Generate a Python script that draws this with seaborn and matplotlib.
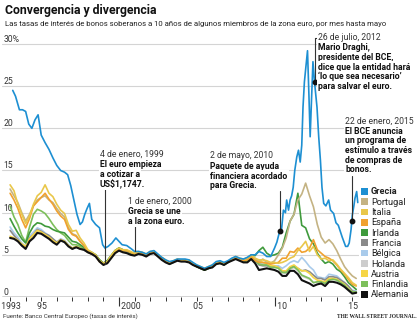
import numpy as np
import pandas as pd
import matplotlib
matplotlib.use("Agg")
import matplotlib.pyplot as plt
import seaborn as sns
from matplotlib import font_manager as fm
from matplotlib.patches import Patch

# ---------------- data ----------------
quarters = pd.period_range("1993Q1", "2015Q2", freq="Q")

alemania = [7.0, 6.9, 6.6, 6.1, 5.7, 6.6, 7.0, 7.6, 7.5, 7.2, 6.9, 6.5, 6.2, 6.7, 6.5, 6.0,
            5.7, 5.9, 5.7, 5.6, 5.3, 5.1, 4.8, 4.2, 3.8, 4.0, 4.6, 5.2, 5.5, 5.3, 5.2, 5.0,
            4.9, 5.1, 5.0, 4.8, 5.1, 5.2, 4.8, 4.4, 4.1, 3.9, 4.1, 4.3, 4.2, 4.2, 4.1, 3.8,
            3.6, 3.4, 3.2, 3.4, 3.5, 3.9, 4.0, 3.8, 4.1, 4.3, 4.5, 4.3, 4.1, 4.1, 4.5, 4.0,
            3.2, 3.3, 3.4, 3.3, 3.2, 3.0, 2.5, 2.5, 3.1, 3.1, 2.7, 2.0, 1.8, 1.6, 1.3, 1.5,
            1.6, 1.3, 1.8, 1.8, 1.7, 1.5, 1.2, 0.8, 0.4, 0.5]
holanda = [7.1, 6.9, 6.6, 6.1, 5.8, 6.8, 7.2, 7.8, 7.6, 7.3, 7.0, 6.6, 6.3, 6.8, 6.6, 6.1,
           5.8, 6.0, 5.8, 5.6, 5.3, 5.1, 4.8, 4.3, 3.9, 4.2, 4.8, 5.4, 5.7, 5.5, 5.4, 5.2,
           5.0, 5.2, 5.2, 4.9, 5.2, 5.3, 4.9, 4.5, 4.2, 4.0, 4.2, 4.4, 4.3, 4.3, 4.2, 3.9,
           3.6, 3.4, 3.2, 3.4, 3.6, 4.0, 4.0, 3.8, 4.1, 4.4, 4.6, 4.4, 4.2, 4.3, 4.7, 4.3,
           4.0, 3.9, 3.8, 3.6, 3.6, 3.4, 2.9, 2.8, 3.3, 3.5, 3.1, 2.5, 2.3, 2.1, 1.7, 1.8,
           1.8, 1.7, 2.1, 2.2, 2.1, 1.8, 1.5, 1.0, 0.6, 0.6]
austria = [7.2, 7.0, 6.7, 6.3, 6.0, 6.9, 7.4, 7.9, 7.7, 7.4, 7.1, 6.7, 6.4, 6.8, 6.6, 6.1,
           5.8, 6.0, 5.8, 5.7, 5.3, 5.2, 4.9, 4.4, 4.0, 4.3, 4.9, 5.5, 5.8, 5.6, 5.5, 5.3,
           5.1, 5.3, 5.2, 5.0, 5.3, 5.3, 5.0, 4.6, 4.2, 4.0, 4.2, 4.4, 4.3, 4.3, 4.2, 3.9,
           3.6, 3.4, 3.2, 3.4, 3.6, 4.0, 4.0, 3.9, 4.1, 4.4, 4.6, 4.4, 4.2, 4.3, 4.8, 4.5,
           4.3, 4.1, 4.0, 3.7, 3.7, 3.5, 3.1, 3.1, 3.6, 3.8, 3.4, 3.1, 3.1, 2.8, 2.3, 2.0,
           1.9, 1.8, 2.2, 2.2, 2.1, 1.8, 1.5, 1.0, 0.6, 0.5]
francia = [7.9, 7.3, 6.8, 6.1, 5.8, 7.0, 7.4, 8.0, 7.8, 7.5, 7.3, 6.9, 6.5, 6.8, 6.6, 6.1,
           5.7, 5.9, 5.7, 5.6, 5.3, 5.1, 4.9, 4.3, 3.9, 4.1, 4.8, 5.4, 5.7, 5.5, 5.4, 5.2,
           5.0, 5.2, 5.1, 4.9, 5.1, 5.3, 4.9, 4.5, 4.2, 4.0, 4.2, 4.4, 4.3, 4.3, 4.2, 3.9,
           3.6, 3.4, 3.2, 3.4, 3.6, 4.0, 4.0, 3.9, 4.1, 4.4, 4.6, 4.4, 4.2, 4.3, 4.8, 4.4,
           3.8, 3.7, 3.7, 3.6, 3.6, 3.5, 3.1, 3.0, 3.5, 3.7, 3.4, 3.1, 3.2, 3.0, 2.6, 2.2,
           2.2, 2.0, 2.4, 2.4, 2.3, 2.0, 1.7, 1.3, 0.7, 0.6]
belgica = [8.3, 7.6, 7.1, 6.4, 6.0, 7.2, 7.7, 8.2, 8.0, 7.6, 7.3, 6.9, 6.5, 6.9, 6.7, 6.2,
           5.8, 6.0, 5.8, 5.6, 5.3, 5.1, 4.9, 4.4, 4.0, 4.2, 4.9, 5.5, 5.8, 5.6, 5.5, 5.3,
           5.1, 5.3, 5.2, 5.0, 5.2, 5.4, 5.0, 4.6, 4.3, 4.0, 4.2, 4.4, 4.3, 4.3, 4.2, 3.9,
           3.6, 3.4, 3.2, 3.4, 3.6, 4.0, 4.1, 3.9, 4.1, 4.4, 4.6, 4.5, 4.3, 4.4, 4.9, 4.6,
           4.1, 4.0, 3.9, 3.7, 3.7, 3.7, 3.4, 3.7, 4.1, 4.3, 4.1, 4.7, 4.2, 3.6, 3.2, 2.4,
           2.3, 2.2, 2.7, 2.6, 2.5, 2.1, 1.7, 1.2, 0.8, 0.7]
finlandia = [10.8, 9.5, 8.6, 7.3, 6.5, 8.3, 9.8, 10.4, 10.2, 9.9, 9.3, 8.6, 8.0, 7.6, 7.3, 6.7,
             6.2, 6.2, 6.0, 5.7, 5.4, 5.2, 5.0, 4.4, 4.0, 4.3, 4.9, 5.5, 5.8, 5.5, 5.5, 5.2,
             5.0, 5.2, 5.1, 4.9, 5.2, 5.3, 4.9, 4.5, 4.2, 3.9, 4.1, 4.4, 4.3, 4.3, 4.2, 3.9,
             3.6, 3.4, 3.2, 3.4, 3.6, 4.0, 4.0, 3.8, 4.1, 4.4, 4.6, 4.4, 4.2, 4.3, 4.7, 4.3,
             3.9, 3.8, 3.8, 3.5, 3.5, 3.4, 2.9, 2.9, 3.4, 3.6, 3.2, 2.6, 2.4, 2.2, 1.7, 1.8,
             1.8, 1.6, 2.0, 2.1, 2.0, 1.7, 1.4, 0.9, 0.6, 0.6]
irlanda = [9.3, 8.4, 7.6, 6.9, 6.4, 7.6, 8.4, 8.8, 8.7, 8.4, 8.3, 8.0, 7.8, 7.7, 7.6, 7.1,
           6.6, 6.5, 6.2, 5.9, 5.5, 5.3, 5.0, 4.4, 4.0, 4.3, 4.9, 5.5, 5.8, 5.6, 5.5, 5.2,
           5.0, 5.2, 5.2, 5.0, 5.2, 5.3, 4.9, 4.5, 4.2, 4.0, 4.2, 4.4, 4.3, 4.3, 4.2, 3.9,
           3.6, 3.4, 3.2, 3.4, 3.6, 4.0, 4.1, 3.9, 4.1, 4.4, 4.6, 4.5, 4.4, 4.6, 5.0, 4.9,
           5.5, 5.9, 5.2, 4.9, 5.0, 5.2, 5.9, 7.6, 9.0, 9.8, 12.3, 8.5, 8.2, 6.9, 6.3, 5.2,
           4.5, 4.0, 4.2, 3.9, 3.3, 3.0, 2.4, 1.7, 1.3, 0.9]
portugal = [12.8, 12.0, 11.2, 10.0, 9.0, 9.8, 10.8, 11.5, 11.8, 12.0, 11.5, 11.2, 10.5, 9.9, 9.5, 8.2,
            7.5, 7.3, 6.6, 6.1, 5.4, 5.1, 4.9, 4.2, 3.9, 4.1, 4.8, 5.4, 5.7, 5.5, 5.5, 5.3,
            5.1, 5.3, 5.2, 5.0, 5.2, 5.3, 4.9, 4.5, 4.2, 4.0, 4.2, 4.4, 4.3, 4.3, 4.2, 3.9,
            3.7, 3.5, 3.3, 3.5, 3.7, 4.0, 4.1, 3.9, 4.2, 4.5, 4.7, 4.5, 4.4, 4.5, 4.9, 4.5,
            4.2, 4.5, 4.1, 4.0, 4.3, 5.0, 5.8, 7.0, 9.0, 9.8, 11.5, 12.2, 13.5, 12.0, 10.7, 8.6,
            7.1, 6.4, 6.8, 6.3, 5.5, 4.5, 3.6, 3.0, 2.5, 2.2]
espana = [12.3, 11.5, 10.5, 9.2, 8.2, 9.3, 10.8, 11.3, 11.8, 12.3, 11.6, 11.0, 10.2, 9.6, 9.2, 8.0,
          7.4, 7.2, 6.6, 6.1, 5.4, 5.1, 4.9, 4.2, 3.9, 4.1, 4.8, 5.4, 5.7, 5.5, 5.5, 5.3,
          5.1, 5.3, 5.2, 5.0, 5.2, 5.3, 4.9, 4.5, 4.2, 4.0, 4.2, 4.4, 4.3, 4.3, 4.2, 3.9,
          3.7, 3.5, 3.3, 3.5, 3.6, 4.0, 4.1, 3.9, 4.2, 4.4, 4.6, 4.4, 4.3, 4.4, 4.8, 4.3,
          4.1, 4.1, 4.0, 3.9, 4.0, 4.1, 4.6, 4.6, 5.4, 5.3, 5.8, 5.3, 5.4, 5.8, 6.8, 5.6,
          5.2, 4.8, 4.6, 4.3, 3.8, 3.2, 2.7, 2.1, 1.5, 1.3]
italia = [13.3, 12.6, 11.0, 9.8, 8.7, 9.6, 11.0, 12.0, 12.4, 13.3, 12.3, 11.9, 11.0, 10.3, 9.9, 8.6,
          7.8, 7.9, 7.0, 6.4, 5.6, 5.3, 5.0, 4.3, 4.0, 4.2, 4.9, 5.5, 5.8, 5.6, 5.6, 5.4,
          5.2, 5.4, 5.3, 5.1, 5.4, 5.4, 5.0, 4.7, 4.4, 4.1, 4.3, 4.5, 4.4, 4.4, 4.4, 4.0,
          3.8, 3.6, 3.4, 3.6, 3.8, 4.1, 4.2, 4.0, 4.2, 4.5, 4.8, 4.6, 4.5, 4.6, 5.0, 4.6,
          4.4, 4.4, 4.3, 4.1, 4.1, 4.0, 4.1, 4.3, 4.6, 4.8, 5.5, 6.0, 6.6, 5.4, 6.0, 5.0,
          4.5, 4.6, 4.3, 4.4, 3.9, 3.3, 2.8, 2.3, 1.7, 1.4]

grecia_t = [1993.17, 1993.35, 1993.6, 1993.8, 1994.0, 1994.2, 1994.4, 1994.6, 1994.8, 1995.0,
            1995.25, 1995.5, 1995.75, 1996.0, 1996.25, 1996.5, 1996.7, 1996.9, 1997.1, 1997.3,
            1997.5, 1997.65, 1997.8, 1997.95, 1998.1, 1998.25, 1998.5, 1998.75, 1998.95, 1999.1,
            1999.3, 1999.55, 1999.8, 2000.0, 2000.2, 2000.5, 2000.8, 2001.0, 2001.25, 2001.5,
            2001.75, 2002.0, 2002.25, 2002.5, 2002.75, 2003.0, 2003.25, 2003.5, 2003.75, 2004.0,
            2004.25, 2004.5, 2004.75, 2005.0, 2005.25, 2005.5, 2005.75, 2006.0, 2006.25, 2006.5,
            2006.75, 2007.0, 2007.25, 2007.5, 2007.75, 2008.0, 2008.25, 2008.5, 2008.75, 2009.0,
            2009.25, 2009.5, 2009.75, 2010.0, 2010.15, 2010.33, 2010.45, 2010.57, 2010.7, 2010.78,
            2010.9, 2011.0, 2011.1, 2011.2, 2011.3, 2011.43, 2011.54, 2011.65, 2011.75, 2011.83,
            2011.92, 2012.0, 2012.12, 2012.21, 2012.29, 2012.38, 2012.47, 2012.57, 2012.73, 2012.84,
            2012.95, 2013.05, 2013.16, 2013.3, 2013.48, 2013.6, 2013.8, 2013.95, 2014.1, 2014.35,
            2014.57, 2014.7, 2014.8, 2014.92, 2015.0, 2015.1, 2015.17, 2015.28, 2015.35]
grecia_v = [24.5, 23.8, 22.2, 22.2, 22.0, 20.5, 20.0, 21.0, 21.6, 19.2,
            18.3, 17.5, 16.5, 15.6, 15.0, 14.8, 14.5, 13.2, 11.5, 9.8,
            8.6, 8.9, 9.8, 10.5, 11.1, 9.2, 8.6, 8.2, 6.2, 5.8,
            6.0, 6.4, 7.0, 6.6, 6.2, 6.1, 5.7, 5.4, 5.4, 5.3,
            5.1, 5.4, 5.5, 5.1, 4.7, 4.4, 4.2, 4.3, 4.5, 4.5,
            4.5, 4.4, 4.1, 3.8, 3.6, 3.4, 3.6, 3.8, 4.2, 4.3,
            4.1, 4.3, 4.6, 4.8, 4.6, 4.5, 4.7, 5.0, 5.0, 5.4,
            5.2, 4.8, 4.8, 5.8, 6.5, 7.8, 8.0, 10.3, 10.0, 11.5,
            10.3, 11.5, 12.0, 13.0, 15.0, 16.6, 17.4, 16.0, 18.0, 22.5,
            25.5, 27.0, 29.2, 24.0, 19.0, 23.5, 27.9, 25.5, 22.5, 19.0,
            16.2, 13.0, 11.1, 10.8, 11.5, 10.3, 9.9, 8.8, 8.5, 7.1,
            6.0, 6.0, 6.4, 8.0, 9.7, 10.8, 11.7, 12.5, 11.2]

paises = ["Grecia", "Portugal", "Italia", "España", "Irlanda", "Francia",
          "Bélgica", "Holanda", "Austria", "Finlandia", "Alemania"]
colores = ["#1d8fd2", "#c4b383", "#e9c74a", "#f0a12f", "#3f9a3c", "#8a8a8a",
           "#a9cbeb", "#cdcdcd", "#f6d545", "#7dbf5b", "#111111"]

# ---------------- build table ----------------
tq = quarters.year + (quarters.quarter - 1) / 4.0
series = {"Alemania": alemania, "Holanda": holanda, "Austria": austria, "Francia": francia,
          "Bélgica": belgica, "Finlandia": finlandia, "Irlanda": irlanda, "Portugal": portugal,
          "España": espana, "Italia": italia}
frames = [pd.DataFrame({"t": tq, "v": vals, "pais": name}) for name, vals in series.items()]
frames.append(pd.DataFrame({"t": grecia_t, "v": grecia_v, "pais": "Grecia"}))
df = pd.concat(frames, ignore_index=True)

draw_order = ["Holanda", "Bélgica", "Francia", "Austria", "Finlandia", "Irlanda",
              "Portugal", "España", "Italia", "Grecia", "Alemania"]
palette = dict(zip(paises, colores))

# ---------------- style ----------------
sns.set_style("white")
available = {f.name for f in fm.fontManager.ttflist}
NARROW = "Liberation Sans Narrow" if "Liberation Sans Narrow" in available else "Roboto"
plt.rcParams["font.family"] = [NARROW, "DejaVu Sans"]

W, H = 420, 326
fig = plt.figure(figsize=(W / 100, H / 100), dpi=100)
ax = fig.add_axes([2 / W, (H - 297) / H, 357 / W, (297 - 40.6) / H])

for p in draw_order:
    sub = df[df.pais == p]
    sns.lineplot(data=sub, x="t", y="v", color=palette[p], estimator=None, sort=True,
                 linewidth=1.5 if p == "Alemania" else 1.2, ax=ax, legend=False, zorder=3)

ax.set_xlim(1992.48, 2015.43)
ax.set_ylim(0, 30.4)
for s in ax.spines.values():
    s.set_visible(False)
ax.set_xlabel("")
ax.set_ylabel("")

# y grid + labels
yt = [0, 5, 10, 15, 20, 25, 30]
ax.set_yticks(yt)
ax.set_yticklabels(["0", "5", "10", "15", "20", "25", "30%"])
ax.grid(axis="y", color="#d4d4d4", linewidth=0.8, zorder=0)
ax.grid(axis="x", visible=False)
ax.axhline(0, color="#333333", linewidth=1.0, zorder=2)
ax.tick_params(axis="y", length=0, pad=-1.2, labelsize=6.2, labelcolor="#333333")
for lab in ax.get_yticklabels():
    lab.set_horizontalalignment("left")
    lab.set_verticalalignment("bottom")

# x ticks: every year short, decades long
years = list(range(1993, 2016))
ylabels = {1993: "1993", 1995: "95", 2005: "05", 2015: "15"}
ax.set_xticks([2000, 2010])
ax.set_xticklabels([" 2000", " 10"], ha="left")
ax.set_xticks(years, minor=True)
ax.set_xticklabels([(" " + ylabels[y]) if y in ylabels else "" for y in years], minor=True, ha="left")
ax.tick_params(axis="x", which="major", length=6.5, width=0.8, color="#333333",
               pad=-2.6, labelsize=6.3, labelcolor="#333333", bottom=True)
ax.tick_params(axis="x", which="minor", length=2.6, width=0.7, color="#333333",
               pad=1.3, labelsize=6.3, labelcolor="#333333", bottom=True)
for lab in ax.get_xticklabels(minor=True):
    lab.set_horizontalalignment("center")

# ---------------- texts ----------------
def fx(x):
    return x / W

def fy(y):
    return 1 - y / H

fig.text(fx(5), fy(10.5), "Convergencia y divergencia", fontsize=8.8, fontweight="bold",
         va="center", ha="left", color="#111111")
fig.text(fx(5), fy(23.5), "Las tasas de interés de bonos soberanos a 10 años de algunos miembros de la zona euro, por mes hasta mayo",
         fontsize=5.6, va="center", ha="left", color="#222222")
fig.text(fx(3), fy(316), "Fuente: Banco Central Europeo (tasas de interés)", fontsize=4.5,
         va="center", ha="left", color="#333333")
fig.text(fx(417), fy(316), "THE WALL STREET JOURNAL.", fontsize=4.0, va="center", ha="right",
         color="#222222", family=["Liberation Serif", "DejaVu Serif"], fontweight="bold")

def vpix(y):
    return (297 - y) / ((297 - 40.6) / 30.4)

def block(x, y0, date, lines, step=9.6):
    fig.text(fx(x), fy(y0), date, fontsize=6.2, va="center", ha="left", color="#333333",
             bbox=dict(fc="white", ec="none", pad=0.6), zorder=5)
    for i, ln in enumerate(lines):
        fig.text(fx(x), fy(y0 + 10.5 + step * i), ln, fontsize=6.2, fontweight="bold",
                 va="center", ha="left", color="#111111",
                 bbox=dict(fc="white", ec="none", pad=0.9), zorder=5)

block(100, 154, "4 de enero, 1999", ["El euro empieza", "a cotizar a", "US$1,1747."])
block(128, 201.5, "1 de enero, 2000", ["Grecia se une", "a la zona euro."])
block(210, 156, "2 de mayo, 2010", ["Paquete de ayuda", "financiera acordado", "para Grecia."])
block(318, 37.5, "26 de julio, 2012", ["Mario Draghi,", "presidente del BCE,", "dice que la entidad hará",
                                         "‘lo que sea necesario’", "para salvar el euro."])
block(345, 120.7, "22 de enero, 2015", ["El BCE anuncia", "un programa de", "estímulo a través",
                                          "de compras de", "bonos."])

gt = np.array(grecia_t)
gv = np.array(grecia_v)
lk = dict(color="#333333", linewidth=0.8, zorder=4, clip_on=False)
# 1999 euro launch: line down to Germany's low
ax.plot([1999.08, 1999.08], [vpix(189), np.interp(1999.08, tq, alemania)], **lk)
# 2001 Greece joins
ax.plot([2001.05, 2001.05], [vpix(226), np.interp(2001.05, gt, gv)], **lk)
# events on Greek line
for t_ev, ytop in [(2010.33, 191), (2012.57, 37.5), (2014.97, 176)]:
    v_ev = np.interp(t_ev, gt, gv)
    ax.plot([t_ev, t_ev], [vpix(ytop), v_ev], **lk)
    ax.plot([t_ev], [v_ev], marker="o", markersize=3.2, color="#111111", zorder=6, clip_on=False)
ax.plot([2012.57, 2012.57 + 0.22], [vpix(37.5), vpix(37.5)], **lk)

# ---------------- legend ----------------
handles = [Patch(facecolor=c, edgecolor="none") for c in colores]
leg = fig.legend(handles, paises, loc="upper left", bbox_to_anchor=(fx(361), fy(187.5)),
                 frameon=False, fontsize=6.6, handlelength=0.75, handleheight=0.75,
                 handletextpad=0.35, labelspacing=0.14, borderpad=0, borderaxespad=0)
leg.get_texts()[0].set_fontweight("bold")
for t in leg.get_texts():
    t.set_color("#222222")

fig.savefig("out.png", dpi=100)
